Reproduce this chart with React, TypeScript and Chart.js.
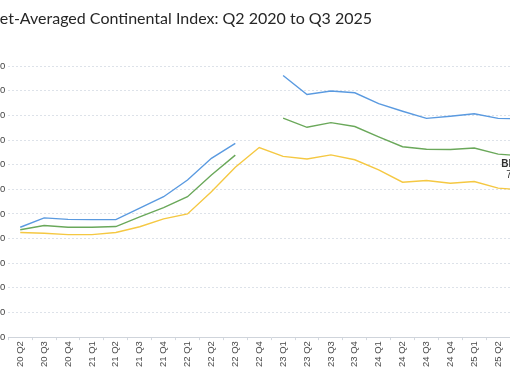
import React, { useEffect, useRef } from "react";
import { Chart, registerables } from "chart.js";
Chart.register(...registerables);

const TITLE = "Basket-Averaged Continental Index: Q2 2020 to Q3 2025";
const QUARTERS = [
  "20 Q2", "20 Q3", "20 Q4", "21 Q1", "21 Q2", "21 Q3", "21 Q4", "22 Q1", "22 Q2", "22 Q3", "22 Q4",
  "23 Q1", "23 Q2", "23 Q3", "23 Q4", "24 Q1", "24 Q2", "24 Q3", "24 Q4", "25 Q1", "25 Q2", "25 Q3",
];
const PREMIUM = [44.6, 48.4, 47.8, 47.7, 47.7, 52.4, 57.0, 63.8, 72.6, 78.7, null, 106.2, 98.5, 99.9, 99.2, 94.8, 91.7, 88.8, 89.7, 90.7, 88.8, 88.6];
const BLENDED = [43.6, 45.3, 44.6, 44.6, 44.9, 48.8, 52.6, 57.0, 65.8, 73.9, null, 88.9, 85.2, 87.1, 85.5, 81.3, 77.3, 76.3, 76.2, 76.8, 74.3, 73.6];
const STANDARD = [42.5, 42.2, 41.6, 41.6, 42.5, 44.8, 48.0, 50.0, 59.0, 69.0, 77.0, 73.4, 72.3, 74.0, 72.0, 67.9, 62.9, 63.6, 62.5, 63.2, 60.5, 59.8];
const SERIES_NAMES = ["Premium", "Blended", "Standard"];
const Y_MIN = 0;
const Y_MAX = 110;
const Y_STEP = 10;

const endLabelPlugin = {
  id: "endLabel",
  afterDatasetsDraw(chart: any) {
    const meta = chart.getDatasetMeta(1);
    const ds = chart.data.datasets[1];
    const last = meta.data[meta.data.length - 1];
    if (!last) return;
    const v = ds.data[ds.data.length - 1];
    const ctx = chart.ctx;
    ctx.save();
    ctx.textAlign = "center";
    ctx.textBaseline = "middle";
    ctx.fillStyle = "#2f2f2f";
    ctx.font = "bold 10px 'Liberation Sans', Arial, sans-serif";
    ctx.fillText(ds.label, last.x - 1, last.y + 8);
    ctx.font = "10px 'Liberation Sans', Arial, sans-serif";
    ctx.fillText(Number(v).toFixed(1) + " pts", last.x + 2, last.y + 19);
    ctx.restore();
  },
};

export default function App() {
  const ref = useRef<HTMLCanvasElement>(null);
  useEffect(() => {
    const chart = new Chart(ref.current!, {
      type: "line",
      data: {
        labels: QUARTERS,
        datasets: [
          { label: SERIES_NAMES[0], data: PREMIUM, borderColor: "#5a9ae0", backgroundColor: "#5a9ae0", borderWidth: 1.4, pointRadius: 0, tension: 0, spanGaps: false },
          { label: SERIES_NAMES[1], data: BLENDED, borderColor: "#6aa85a", backgroundColor: "#6aa85a", borderWidth: 1.4, pointRadius: 0, tension: 0, spanGaps: false },
          { label: SERIES_NAMES[2], data: STANDARD, borderColor: "#f5c842", backgroundColor: "#f5c842", borderWidth: 1.4, pointRadius: 0, tension: 0, spanGaps: false },
        ],
      },
      options: {
        responsive: false,
        animation: false,
        layout: { padding: { left: 12, right: 21, top: 0, bottom: 14 } },
        plugins: {
          legend: { display: false },
          tooltip: { enabled: false },
          title: {
            display: true,
            text: TITLE,
            align: "start",
            color: "#262626",
            font: { family: "Lato", size: 16, weight: "normal" },
            padding: { top: 9, bottom: 38 },
          },
        },
        scales: {
          x: {
            offset: true,
            grid: { offset: true, drawOnChartArea: false, drawTicks: true, tickLength: 3, color: "#d3d8df" },
            border: { display: true, color: "#cfd4db" },
            ticks: {
              autoSkip: false,
              maxRotation: 90,
              minRotation: 90,
              padding: 1,
              color: "#4a4a4a",
              font: { family: "'Liberation Sans', Arial, sans-serif", size: 9.5 },
            },
          },
          y: {
            min: Y_MIN,
            max: Y_MAX,
            afterFit: (s: any) => { s.width = 41.3; },
            ticks: {
              stepSize: Y_STEP,
              padding: 3,
              color: "#444",
              font: { family: "'Liberation Sans', Arial, sans-serif", size: 9.5 },
            },
            grid: { color: "#dde2e9", drawTicks: false },
            border: { display: false, dash: [2, 2] },
          },
        },
      },
      plugins: [endLabelPlugin],
    } as any);
    return () => chart.destroy();
  }, []);
  return (
    <div style={{ position: "fixed", left: 0, top: 0, width: 510, height: 382, overflow: "hidden", background: "#fff" }}>
      <div style={{ position: "absolute", left: -45, top: 0 }}>
        <canvas ref={ref} width={600} height={382} style={{ display: "block" }} />
      </div>
    </div>
  );
}
